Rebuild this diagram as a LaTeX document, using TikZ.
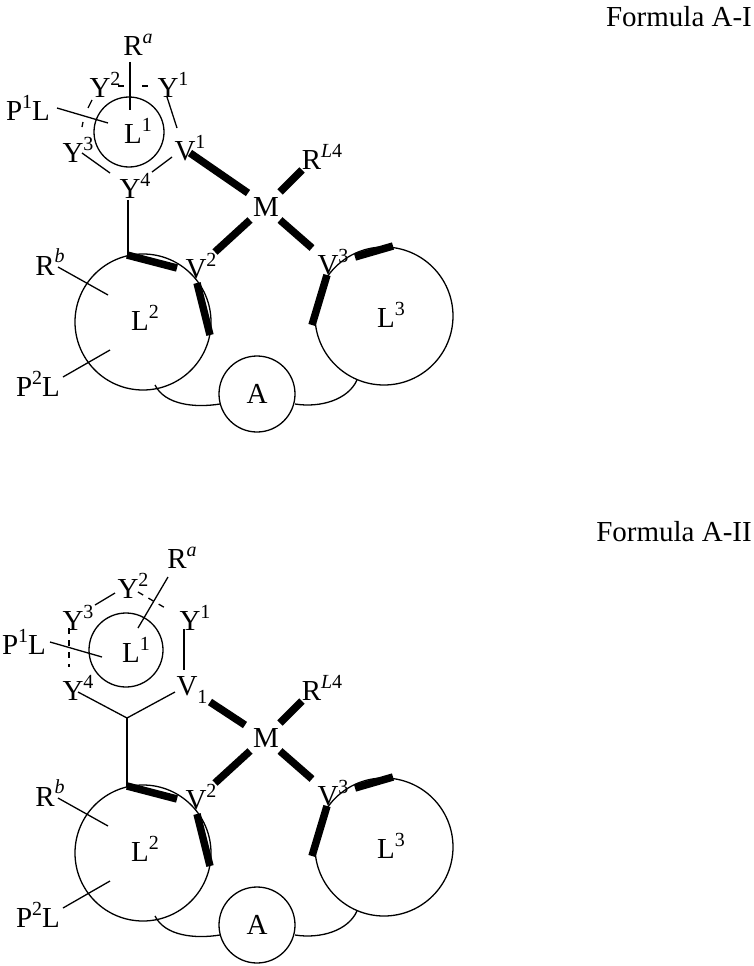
\documentclass[tikz,border=0pt]{standalone}
\usepackage{fontspec}
\setmainfont{Liberation Serif}
\newcommand\sps[1]{\raisebox{0.42em}{\fontsize{20}{20}\selectfont #1}}
\newcommand\sbs[1]{\raisebox{-0.3em}{\fontsize{20}{20}\selectfont #1}}
\begin{document}
\begin{tikzpicture}[x=1pt,y=-1pt,
  lab/.style={inner sep=0pt,font=\fontsize{29}{29}\selectfont},
  thin/.style={line width=1.3pt},
  bond/.style={line width=7.5pt},
  dsh/.style={line width=1.3pt,dash pattern=on 6pt off 6pt}]
\useasboundingbox (0,0) rectangle (754,966);
\newcommand\lowerpart[1]{%
\begin{scope}[yshift=-#1pt,name prefix=p#1]
  \node[lab] (M) at (266,207) {M};
  \node[lab] (RL) at (322,157) {R\sps{\textit{L}4}};
  \node[lab] (V2) at (201,266) {V\sps{2}};
  \node[lab] (V3) at (333,262) {V\sps{3}};
  \node[lab] (L2) at (145,318) {L\sps{2}};
  \node[lab] (L3) at (391,315) {L\sps{3}};
  \node[lab] (A) at (257,394) {A};
  \node[lab] (Rb) at (50,262) {R\sps{\textit{b}}};
  \node[lab] (P2) at (38,384) {P\sps{2}L};
  \draw[thin] (143,322) circle (68);
  \draw[thin] (384,316) circle (69);
  \draw[thin] (257,394) circle (38);
  \draw[bond] (280,192) -- (302,170);
  \draw[bond] (250,220) -- (215,252);
  \draw[bond] (280,220) -- (312,248);
  \draw[bond] (127,255) -- (177,268);
  \draw[bond] (197,283) -- (210,335);
  \draw[bond] (355,257) -- (393,246);
  \draw[bond] (327,275) -- (312,325);
  \draw[thin] (58,267) -- (108,295);
  \draw[thin] (63,377) -- (110,350);
  \draw[thin] (155,385) .. controls (165,405) and (195,408) .. (220,404);
  \draw[thin] (295,404) .. controls (320,408) and (348,400) .. (357,380);
\end{scope}}
% ---------- Formula A-I
\node[lab] (F1) at (679,17) {Formula A-I};
\lowerpart{0}
\node[lab] (Ra) at (138,45) {R\sps{\textit{a}}};
\node[lab] (Y2) at (105,85) {Y\sps{2}};
\node[lab] (Y1) at (173,85) {Y\sps{1}};
\node[lab] (Y3) at (78,150) {Y\sps{3}};
\node[lab] (V1) at (190,148) {V\sps{1}};
\node[lab] (Y4) at (135,186) {Y\sps{4}};
\node[lab] (L1) at (138,131) {L\sps{1}};
\node[lab] (P1) at (28,108) {P\sps{1}L};
\draw[thin] (129,132) circle (35);
\draw[thin] (130,62) -- (130,110);
\draw[thin] (118,86) -- (124,86) (142,86) -- (148,86);
\draw[thin] (92,100) -- (88,108) (83,122) -- (82,127);
\draw[thin] (57,108) -- (108,123);
\draw[thin] (167,97) -- (177,128);
\draw[thin] (82,153) -- (110,173);
\draw[thin] (152,172) -- (172,157);
\draw[bond] (190,153) -- (248,193);
\draw[thin] (128,200) -- (128,256);
% ---------- Formula A-II
\node[lab] (F2) at (674,532) {Formula A-II};
\lowerpart{531}
\node[lab] (Ra2) at (182,558) {R\sps{\textit{a}}};
\node[lab] (Y22) at (133,586) {Y\sps{2}};
\node[lab] (Y32) at (78,618) {Y\sps{3}};
\node[lab] (Y12) at (195,618) {Y\sps{1}};
\node[lab] (Y42) at (78,688) {Y\sps{4}};
\node[lab] (V12) at (192,690) {V\sbs{1}};
\node[lab] (L12) at (136,650) {L\sps{1}};
\node[lab] (P12) at (24,642) {P\sps{1}L};
\draw[thin] (126,650) circle (37);
\draw[thin] (168,577) -- (138,628);
\draw[thin] (95,605) -- (115,593);
\draw[dsh] (138,592) -- (167,609);
\draw[dsh] (69,628) -- (69,667);
\draw[thin] (184,629) -- (184,670);
\draw[thin] (50,642) -- (102,657);
\draw[thin] (78,692) -- (127,718) -- (175,692);
\draw[thin] (127,718) -- (127,787);
\draw[bond] (210,702) -- (245,725);
\end{tikzpicture}
\end{document}
